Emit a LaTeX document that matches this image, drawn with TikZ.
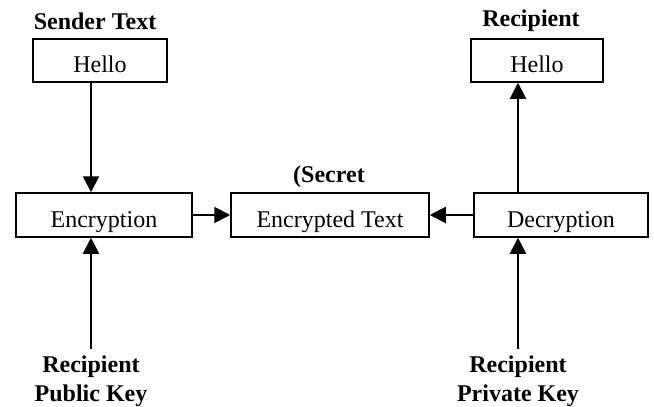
\documentclass[tikz,border=0pt]{standalone}
\usepackage{fontspec}
\setmainfont{Liberation Serif}
\usepackage{tikz}
\usetikzlibrary{arrows.meta,positioning}
\definecolor{inkblack}{HTML}{000000}

\begin{document}
\begin{tikzpicture}[x=1pt,y=-1pt,font=\fontsize{24}{29}\selectfont,
    stagebox/.style={draw=inkblack,line width=1.5pt,minimum height=44pt,
      text height=24pt,text depth=0pt,inner sep=0pt},
    caption/.style={font=\fontsize{24}{29}\selectfont\bfseries,align=center,inner sep=0pt},
    flow/.style={-{Triangle[length=16pt,width=16pt]},line width=2pt,inkblack}]
  \useasboundingbox (0,0) rectangle (654,407);
  % boxes
  \node[stagebox,minimum width=134pt,minimum height=43pt] (helloS) at (100,60.5) {Hello};
  \node[stagebox,minimum width=132pt,minimum height=43pt] (helloR) at (537,60.5) {Hello};
  \node[stagebox,minimum width=176pt] (encr) at (104,215) {Encryption};
  \node[stagebox,minimum width=198pt] (cipher) at (330,215) {Encrypted Text};
  \node[stagebox,minimum width=174pt] (decr) at (561,215) {Decryption};
  % captions
  \node[caption] (sender) at (95,21) {Sender Text};
  \node[caption] (recip) at (531,21) {Recipient};
  \node[caption] (secret) at (329,177) {(Secret};
  \node[caption,anchor=north] (pubkey) at (91,356) {Recipient\\Public Key};
  \node[caption,anchor=north] (privkey) at (518,356) {Recipient\\Private Key};
  % arrows
  \draw[flow] (helloS.south -| pubkey) -- (encr.north -| pubkey);
  \draw[flow] ([yshift=7pt]pubkey.north) -- (encr.south -| pubkey);
  \draw[flow] (encr) -- (cipher);
  \draw[flow] (decr) -- (cipher);
  \draw[flow] (decr.north -| privkey) -- (helloR.south -| privkey);
  \draw[flow] ([yshift=7pt]privkey.north) -- (decr.south -| privkey);
\end{tikzpicture}
\end{document}
